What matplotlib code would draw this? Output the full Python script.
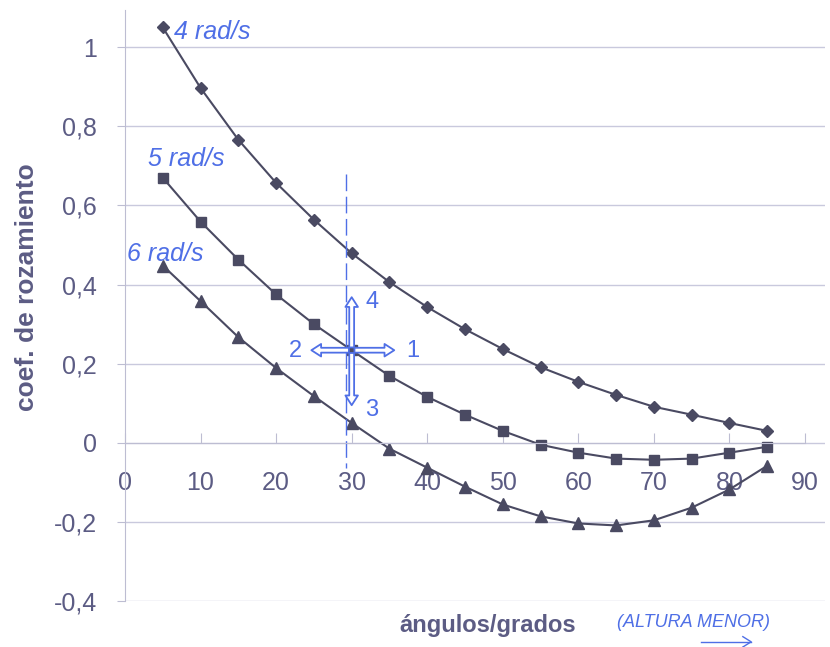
import matplotlib.pyplot as plt

# data
angulos = [5, 10, 15, 20, 25, 30, 35, 40, 45, 50, 55, 60, 65, 70, 75, 80, 85]
coef_4 = [1.050, 0.897, 0.766, 0.657, 0.564, 0.479, 0.406, 0.343, 0.287,
          0.237, 0.191, 0.154, 0.121, 0.091, 0.071, 0.050, 0.030]
coef_5 = [0.670, 0.559, 0.463, 0.375, 0.300, 0.234, 0.169, 0.116, 0.071,
          0.030, -0.005, -0.025, -0.040, -0.043, -0.040, -0.025, -0.010]
coef_6 = [0.448, 0.358, 0.267, 0.189, 0.118, 0.050, -0.015, -0.063, -0.111,
          -0.156, -0.186, -0.204, -0.209, -0.196, -0.164, -0.118, -0.058]
xticks = [0, 10, 20, 30, 40, 50, 60, 70, 80, 90]
yticks = [-0.4, -0.2, 0, 0.2, 0.4, 0.6, 0.8, 1.0]
ylabels = ["-0,4", "-0,2", "0", "0,2", "0,4", "0,6", "0,8", "1"]

linecol = "#4a4a62"
textcol = "#5c5c84"
blue = "#4f6fe6"

plt.rcParams['font.family'] = ['Liberation Sans', 'DejaVu Sans']

fig = plt.figure(figsize=(8.3, 6.47), dpi=100)
ax = fig.add_axes([0.1506, 0.0711, 0.843, 0.9134])

ax.plot(angulos, coef_4, color=linecol, lw=1.5, marker="D", ms=6)
ax.plot(angulos, coef_5, color=linecol, lw=1.5, marker="s", ms=7)
ax.plot(angulos, coef_6, color=linecol, lw=1.5, marker="^", ms=8)

ax.set_xlim(0, 92.6)
ax.set_ylim(-0.4, 1.094)
ax.set_yticks(yticks)
ax.set_yticklabels(ylabels)
ax.set_xticks(xticks)
ax.grid(axis="y", color="#c9c9dd", lw=1)
ax.set_axisbelow(True)

for s in ["top", "right"]:
    ax.spines[s].set_visible(False)
ax.spines["bottom"].set_position(("data", 0))
ax.spines["bottom"].set_color("#bdbdd2")
ax.spines["bottom"].set_bounds(0, 90)
ax.spines["left"].set_color("#bdbdd2")
ax.tick_params(axis="x", direction="in", length=7, pad=20, colors="#bdbdd2",
               labelcolor=textcol, labelsize=18)
ax.tick_params(axis="y", direction="out", length=6, pad=14, colors="#bdbdd2",
               labelcolor=textcol, labelsize=18)

fig.text(0.033, 0.556, "coef. de rozamiento", rotation=90, ha="center", va="center",
         fontsize=19, fontweight="bold", color=textcol)
fig.text(0.588, 0.034, "ángulos/grados", ha="center", va="center",
         fontsize=17, fontweight="bold", color=textcol)

# handwritten notes
hand = dict(color=blue, fontstyle="italic", fontsize=18)
ax.text(6.5, 1.02, "4 rad/s", **hand)
ax.text(3, 0.70, "5 rad/s", **hand)
ax.text(0.3, 0.46, "6 rad/s", **hand)
fig.text(0.835, 0.038, "(ALTURA MENOR)", ha="center", va="center", color=blue,
         fontstyle="italic", fontsize=13)
fig.add_artist(plt.Line2D([0.845, 0.905], [0.008, 0.008], color=blue, lw=1))
fig.add_artist(plt.Line2D([0.895, 0.905, 0.895], [0.016, 0.008, 0.0], color=blue, lw=1))

ax.plot([29.3, 29.3], [0.68, -0.065], color=blue, lw=1, ls=(0, (12, 4)))
cx, cy = 30, 0.234
arw = dict(arrowstyle="simple,head_length=0.7,head_width=0.9,tail_width=0.35",
           fc="white", ec=blue, lw=1.3)
for tx, ty in [(36, cy), (24.3, cy), (cx, 0.088), (cx, 0.375)]:
    ax.annotate("", xy=(tx, ty), xytext=(cx, cy), arrowprops=arw)
num = dict(color=blue, fontsize=17, ha="center", va="center")
ax.text(38.1, 0.232, "1", **num)
ax.text(22.6, 0.232, "2", **num)
ax.text(32.7, 0.083, "3", **num)
ax.text(32.7, 0.355, "4", **num)

fig.savefig("out.png", dpi=100)
